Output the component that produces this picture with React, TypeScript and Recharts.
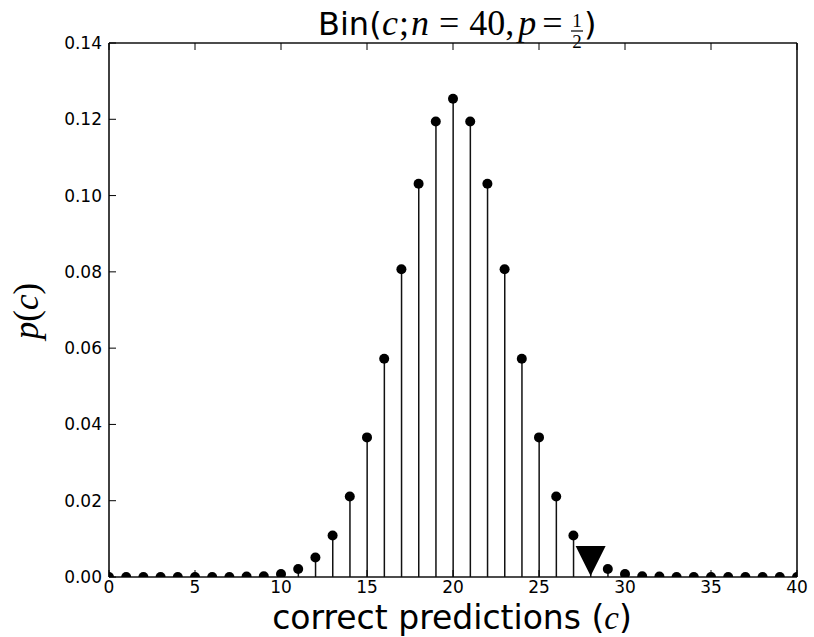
import React from "react";
import {
  Bar,
  ComposedChart,
  Customized,
  Scatter,
  XAxis,
  YAxis,
} from "recharts";

// p(c) for c = 0..40
const counts = [
  0, 1, 2, 3, 4, 5, 6, 7, 8, 9, 10, 11, 12, 13, 14, 15, 16, 17, 18, 19, 20,
  21, 22, 23, 24, 25, 26, 27, 28, 29, 30, 31, 32, 33, 34, 35, 36, 37, 38, 39,
  40,
];
const probs = [
  0, 0, 0, 0, 0, 0, 0, 0, 0.0001, 0.0002, 0.0008, 0.0021, 0.0051, 0.0109,
  0.0211, 0.0366, 0.0572, 0.0807, 0.1031, 0.1194, 0.1254, 0.1194, 0.1031,
  0.0807, 0.0572, 0.0366, 0.0211, 0.0109, 0.0051, 0.0021, 0.0008, 0.0002,
  0.0001, 0, 0, 0, 0, 0, 0, 0, 0,
];
// observed result marker
const observedC = [28];
const observedP = [0.0042];

const xTicks = [0, 5, 10, 15, 20, 25, 30, 35, 40];
const yTicks = [0, 0.02, 0.04, 0.06, 0.08, 0.1, 0.12, 0.14];

const pmf = counts.map((c, i) => ({ c, p: probs[i] }));
const observed = observedC.map((c, i) => ({ c, p: observedP[i] }));

const TICK_FONT = "'DejaVu Sans', sans-serif";
const MATH_FONT = "'Liberation Serif', serif";
const FRAME = { stroke: "#111", strokeWidth: 1.6 };

const BottomTick = ({ x, y, payload }: any) => (
  <g>
    <line x1={x} x2={x} y1={y - 4} y2={y - 11} stroke="#000" />
    <text
      x={x}
      y={y + 12}
      textAnchor="middle"
      fontFamily={TICK_FONT}
      fontSize={17}
      fill="#000"
    >
      {payload.value}
    </text>
  </g>
);

const LeftTick = ({ x, y, payload }: any) => (
  <g>
    <line x1={x + 7} x2={x + 14} y1={y} y2={y} stroke="#000" />
    <text
      x={x}
      y={y + 6}
      textAnchor="end"
      fontFamily={TICK_FONT}
      fontSize={17}
      fill="#000"
    >
      {Number(payload.value).toFixed(2)}
    </text>
  </g>
);

const TopTick = ({ x, y }: any) => (
  <line x1={x} x2={x} y1={y} y2={y + 7} stroke="#000" />
);

const RightTick = ({ x, y }: any) => (
  <line x1={x - 7} x2={x} y1={y} y2={y} stroke="#000" />
);

const Dot = ({ cx, cy }: any) => <circle cx={cx} cy={cy} r={5} fill="#000" />;

const Triangle = ({ cx, cy }: any) => (
  <polygon
    points={`${cx - 15},${cy - 15} ${cx + 15},${cy - 15} ${cx},${cy + 15}`}
    fill="#000"
  />
);

const Annotations = () => (
  <g fill="#000">
    {/* title */}
    <text x={318} y={35} fontSize={32} fontFamily={TICK_FONT}>Bin(</text>
    <text x={382} y={35} fontSize={36} fontFamily={MATH_FONT}>
      <tspan fontStyle="italic">c</tspan>
      <tspan dx={1}>;</tspan>
      <tspan fontStyle="italic" dx={2}>n</tspan>
      <tspan dx={10}>=</tspan>
      <tspan dx={10}>40,</tspan>
      <tspan fontStyle="italic" dx={4}>p</tspan>
      <tspan dx={6}>=</tspan>
    </text>
    <text x={577} y={27} fontSize={19} fontFamily={MATH_FONT} textAnchor="middle">
      1
    </text>
    <text x={577} y={48} fontSize={19} fontFamily={MATH_FONT} textAnchor="middle">
      2
    </text>
    <line x1={571} x2={583} y1={31} y2={31} stroke="#000" strokeWidth={1.2} />
    <text x={584} y={35} fontSize={32} fontFamily={TICK_FONT}>)</text>
    {/* y label */}
    <text
      transform="translate(38,311) rotate(-90)"
      textAnchor="middle"
      fontSize={35}
      fontFamily={MATH_FONT}
    >
      <tspan fontStyle="italic">p</tspan>
      <tspan>(</tspan>
      <tspan fontStyle="italic">c</tspan>
      <tspan>)</tspan>
    </text>
    {/* x label */}
    <text x={452} y={629} textAnchor="middle" fontSize={33}>
      <tspan fontFamily={TICK_FONT}>correct predictions (</tspan>
      <tspan fontFamily={MATH_FONT} fontStyle="italic">c</tspan>
      <tspan fontFamily={TICK_FONT}>)</tspan>
    </text>
  </g>
);

const App = () => {
  return (
    <div style={{ position: "absolute", left: 0, top: 0, background: "#fff" }}>
      <ComposedChart
        width={814}
        height={637}
        data={pmf}
        margin={{ top: 42, right: 16, left: 49, bottom: 30 }}
      >
        <XAxis
          xAxisId="bottom"
          dataKey="c"
          type="number"
          domain={[0, 40]}
          ticks={xTicks}
          interval={0}
          allowDataOverflow
          height={30}
          tickSize={0}
          tickMargin={4}
          tickLine={false}
          axisLine={FRAME}
          tick={<BottomTick />}
        />
        <XAxis
          xAxisId="top"
          orientation="top"
          dataKey="c"
          type="number"
          domain={[0, 40]}
          ticks={xTicks}
          interval={0}
          height={1}
          tickSize={0}
          tickMargin={0}
          tickLine={false}
          axisLine={FRAME}
          tick={<TopTick />}
        />
        <YAxis
          yAxisId="left"
          type="number"
          domain={[0, 0.14]}
          ticks={yTicks}
          interval={0}
          allowDataOverflow
          width={60}
          tickSize={0}
          tickMargin={7}
          tickLine={false}
          axisLine={FRAME}
          tick={<LeftTick />}
        />
        <YAxis
          yAxisId="right"
          orientation="right"
          type="number"
          domain={[0, 0.14]}
          ticks={yTicks}
          interval={0}
          width={1}
          tickSize={0}
          tickMargin={0}
          tickLine={false}
          axisLine={FRAME}
          tick={<RightTick />}
        />
        <Bar
          xAxisId="bottom"
          yAxisId="left"
          dataKey="p"
          barSize={1.5}
          fill="#111"
          isAnimationActive={false}
        />
        <Scatter
          xAxisId="bottom"
          yAxisId="left"
          data={pmf}
          dataKey="p"
          shape={<Dot />}
          isAnimationActive={false}
        />
        <Scatter
          xAxisId="bottom"
          yAxisId="left"
          data={observed}
          dataKey="p"
          shape={<Triangle />}
          isAnimationActive={false}
        />
        <Customized component={<Annotations />} />
      </ComposedChart>
    </div>
  );
};

export default App;
